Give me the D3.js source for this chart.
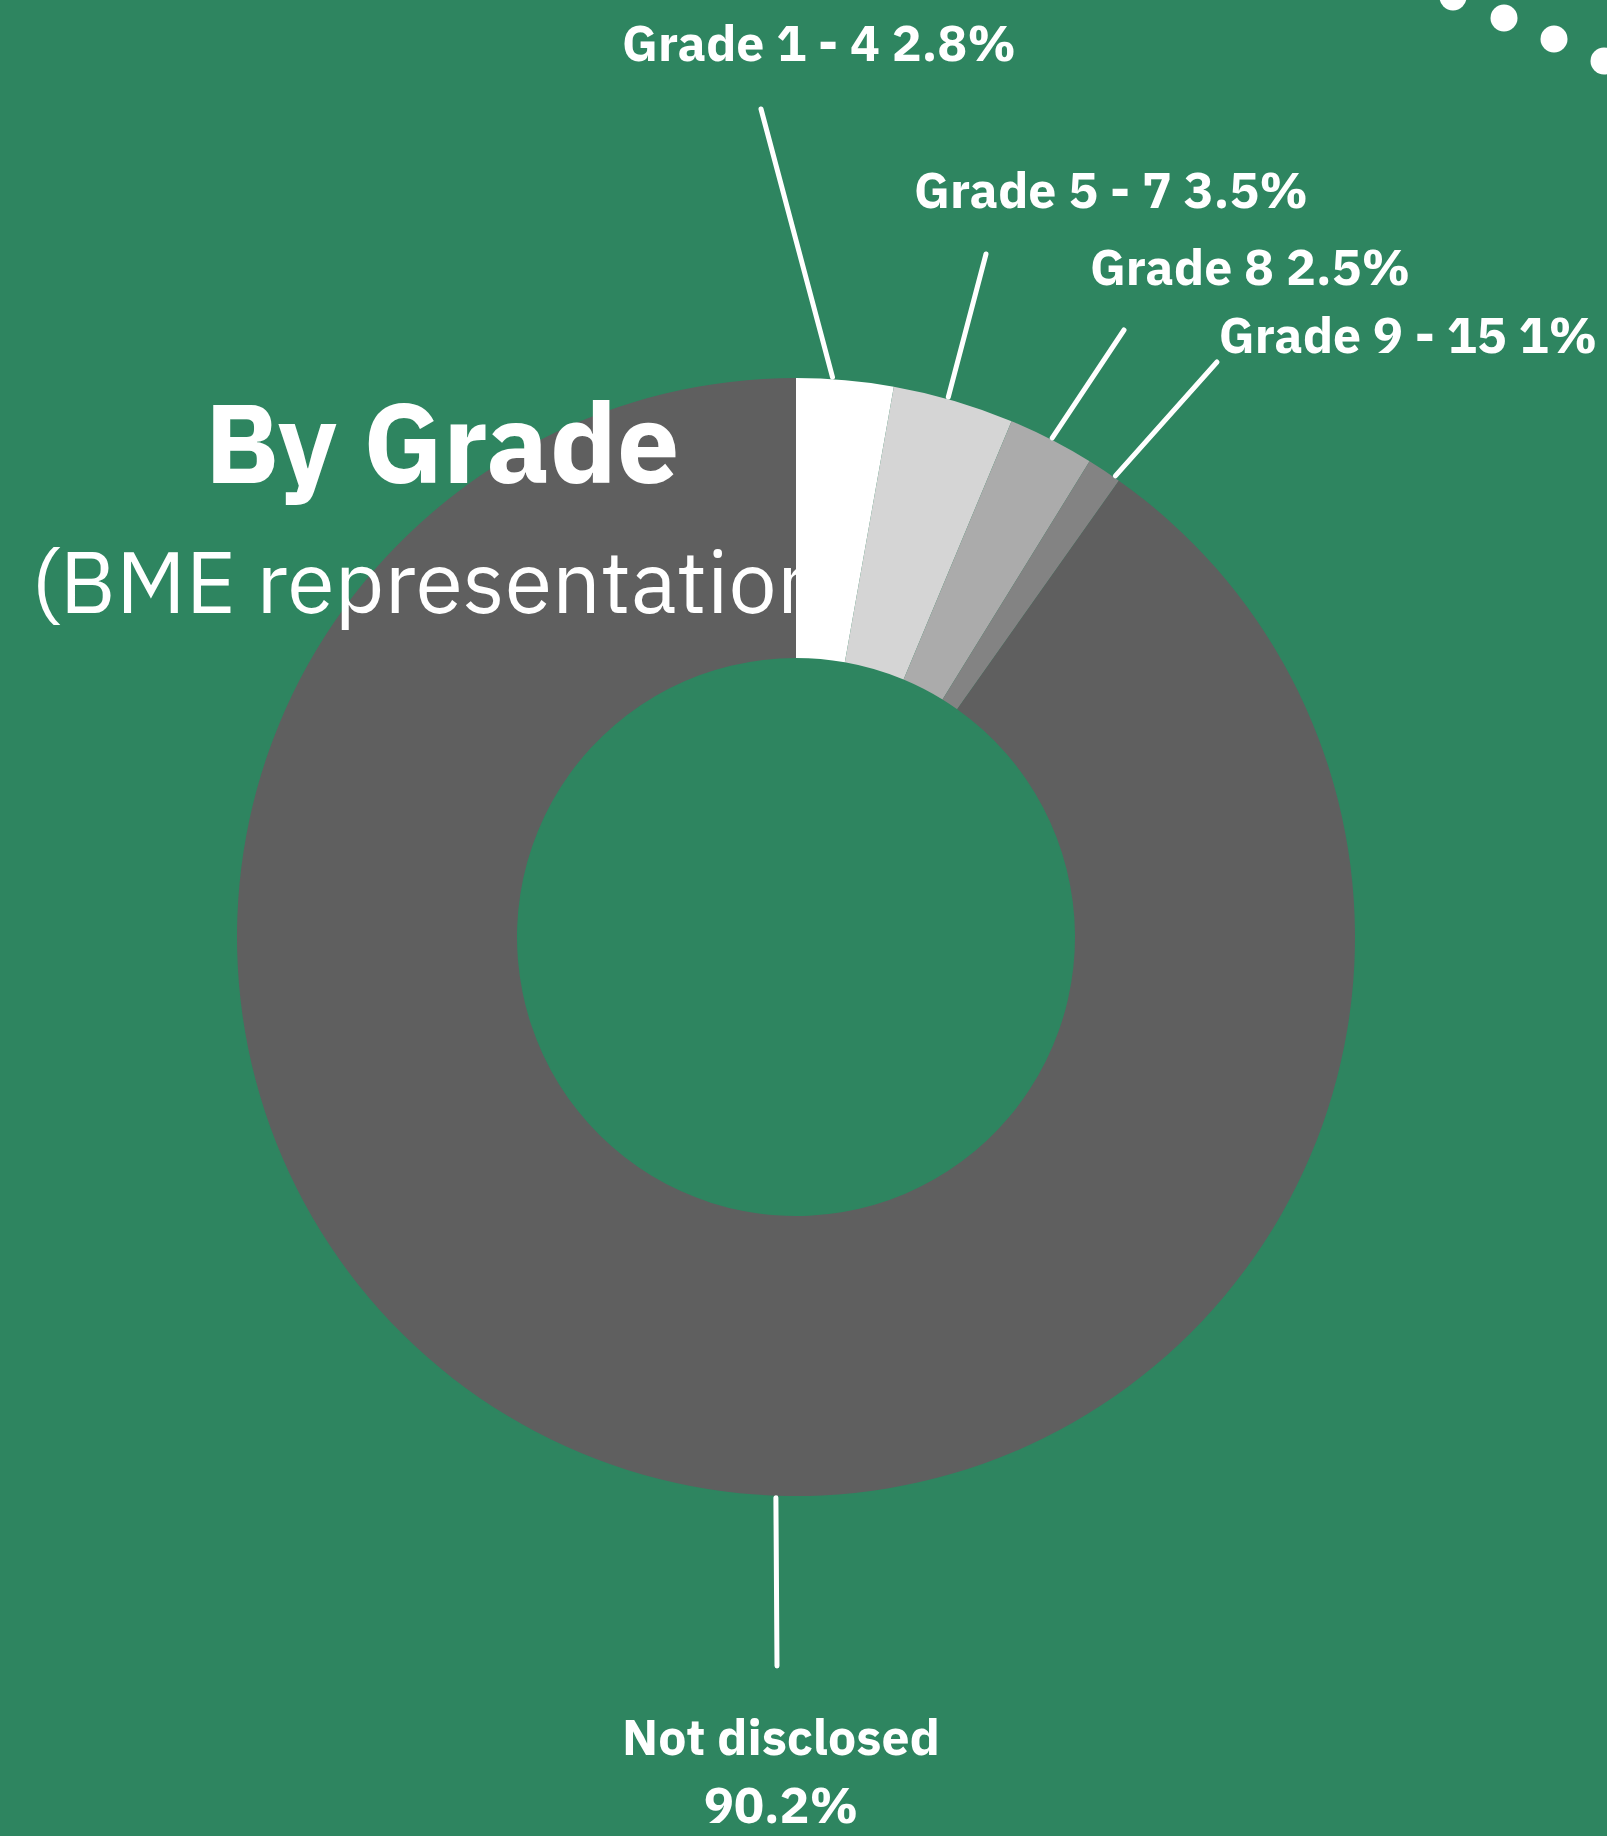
<!DOCTYPE html>
<html><head><meta charset="utf-8">
<script src="https://cdn.jsdelivr.net/npm/d3@7"></script>
<style>html,body{margin:0;padding:0;background:#2e8560;overflow:hidden}svg{display:block}</style>
</head><body>
<script>
// ---- data ----
const categories = ["Grade 1 - 4", "Grade 5 - 7", "Grade 8", "Grade 9 - 15", "Not disclosed"];
const values = [2.8, 3.5, 2.5, 1, 90.2];
const valueLabels = ["2.8%", "3.5%", "2.5%", "1%", "90.2%"];
const sliceColors = ["#ffffff", "#d5d5d5", "#ababab", "#838383", "#5f5f5f"];
const titleText = "By Grade";
const subtitleText = "(BME representation)";

// ---- layout ----
const W = 1607, H = 1836;
const cx = 796, cy = 937, rOuter = 559, rInner = 279;
const bg = "#2e8560";
const FONT = "'IBM Plex Sans','Noto Sans','Open Sans',sans-serif";
// leader: attach fraction within slice, label-end of line, label anchor
const labelLayout = [
  {t: 0.37, end: [761, 109], pos: [819, 61], inline: true},
  {t: 0.45, end: [986, 254], pos: [1111, 208], inline: true},
  {t: 0.50, end: [1124, 330], pos: [1250, 285], inline: true},
  {t: 0.84, end: [1217, 362], pos: [1408, 353], inline: true},
  {t: 0.452, end: [777, 1666], pos: [781, 1755], inline: false}
];
const decorDots = [[1453, -3], [1504, 18], [1554, 39], [1604, 61]];

const svg = d3.select("body").append("svg").attr("width", W).attr("height", H);
const defs = svg.append("defs");
defs.append("clipPath").attr("id", "subclip").attr("clipPathUnits", "userSpaceOnUse")
  .append("rect").attr("x", 0).attr("y", 500).attr("width", cx).attr("height", 160);

svg.append("rect").attr("width", W).attr("height", H).attr("fill", bg);

const pie = d3.pie().sort(null).value(d => d)(values);
const arc = d3.arc().innerRadius(rInner).outerRadius(rOuter);
const g = svg.append("g").attr("transform", `translate(${cx},${cy})`);
g.selectAll("path.slice").data(pie).join("path")
  .attr("class", "slice")
  .attr("d", arc)
  .attr("fill", (d, i) => sliceColors[i]);

// title
svg.append("text").attr("x", 442).attr("y", 483)
  .attr("text-anchor", "middle")
  .attr("font-family", FONT).attr("font-weight", 700).attr("font-size", 111)
  .attr("fill", "#fff").text(titleText);

svg.append("g").attr("clip-path", "url(#subclip)")
  .append("text").attr("x", 31).attr("y", 613)
  .attr("font-family", FONT).attr("font-weight", 400).attr("font-size", 86)
  .attr("fill", "#fff").text(subtitleText);

// leader lines
const lines = svg.append("g");
pie.forEach((d, i) => {
  const L = labelLayout[i];
  const a = d.startAngle + L.t * (d.endAngle - d.startAngle);
  const r = rOuter + 2;
  const x0 = cx + r * Math.sin(a), y0 = cy - r * Math.cos(a);
  lines.append("line")
    .attr("x1", x0).attr("y1", y0).attr("x2", L.end[0]).attr("y2", L.end[1])
    .attr("stroke", "#fff").attr("stroke-width", 5).attr("stroke-linecap", "round");
});

// labels
const lab = svg.append("g").attr("font-family", FONT).attr("font-weight", 700)
  .attr("font-size", 50).attr("fill", "#fff").attr("text-anchor", "middle");
pie.forEach((d, i) => {
  const L = labelLayout[i];
  const t = lab.append("text").attr("x", L.pos[0]).attr("y", L.pos[1]);
  if (L.inline) {
    t.text(categories[i] + " " + valueLabels[i]);
  } else {
    t.append("tspan").attr("x", L.pos[0]).text(categories[i]);
    t.append("tspan").attr("x", L.pos[0]).attr("dy", 68).text(valueLabels[i]);
  }
});

// decorative dots
svg.append("g").selectAll("circle").data(decorDots).join("circle")
  .attr("cx", d => d[0]).attr("cy", d => d[1]).attr("r", 13.5).attr("fill", "#fff");
</script>
</body></html>
